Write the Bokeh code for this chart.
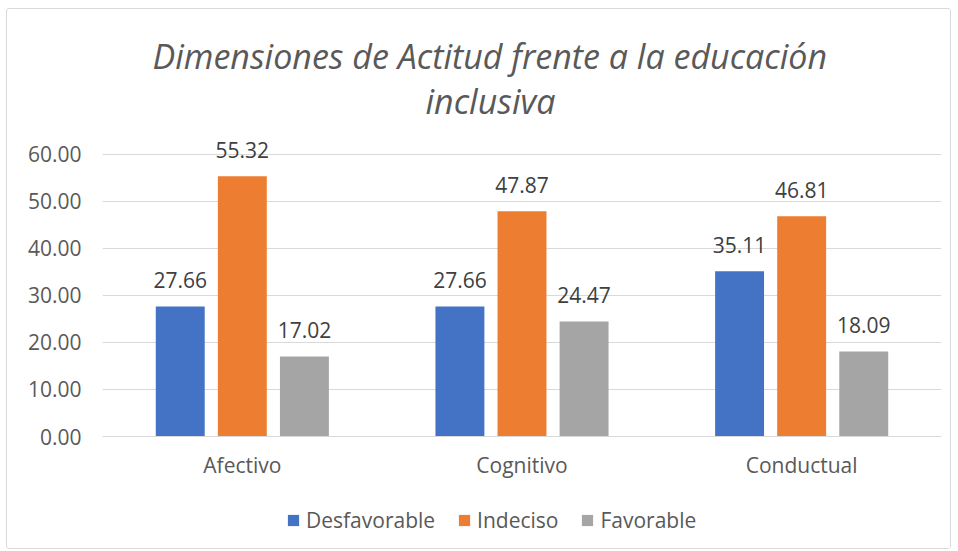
from bokeh.plotting import figure
from bokeh.layouts import column
from bokeh.models import (ColumnDataSource, FactorRange, Range1d, FixedTicker,
                          NumeralTickFormatter, LabelSet, Legend, LegendItem, Title)
from bokeh.transform import dodge
from bokeh.core.properties import value
from bokeh.embed import file_html
from bokeh.resources import INLINE

categories = ["Afectivo", "Cognitivo", "Conductual"]
series_names = ["Desfavorable", "Indeciso", "Favorable"]
desfavorable = [27.66, 27.66, 35.11]
indeciso = [55.32, 47.87, 46.81]
favorable = [17.02, 24.47, 18.09]
y_ticks = [0, 10, 20, 30, 40, 50, 60]
title_lines = ["Dimensiones de Actitud frente a la educación", "inclusiva"]

colors = ["#4472C4", "#ED7D31", "#A5A5A5"]
FONT = "Open Sans"
TXT = "#595959"
GRID = "#D9D9D9"
FS = "21px"

src = ColumnDataSource(dict(
    cat=categories,
    d=desfavorable, i=indeciso, f=favorable,
    dt=[f"{v:.2f}" for v in desfavorable],
    it=[f"{v:.2f}" for v in indeciso],
    ft=[f"{v:.2f}" for v in favorable],
))

p = figure(x_range=FactorRange(*categories), y_range=Range1d(0, 64),
           width=943, height=490, output_backend="svg", toolbar_location=None,
           title=None, min_border_left=95, min_border_right=9,
           min_border_top=126, min_border_bottom=63)

p.add_layout(Title(text=title_lines[1], align="left", offset=323, text_font=FONT,
                   text_font_size="34px", text_font_style="italic",
                   text_color=TXT, standoff=24), "above")
p.add_layout(Title(text=title_lines[0], align="left", offset=50, text_font=FONT,
                   text_font_size="34px", text_font_style="italic",
                   text_color=TXT, standoff=-30), "above")

offs = [-0.222, 0.0, 0.222]
cols = ["d", "i", "f"]
tcols = ["dt", "it", "ft"]
for k in range(3):
    p.vbar(x=dodge("cat", offs[k], range=p.x_range), top=cols[k], width=0.175,
           source=src, fill_color=colors[k], line_color=None)
    lbl = LabelSet(x=dodge("cat", offs[k], range=p.x_range), y=cols[k], text=tcols[k],
                   source=src, text_align="center", text_baseline="alphabetic",
                   y_offset=18, text_font=value(FONT), text_font_size=FS,
                   text_color="#404040")
    p.add_layout(lbl)

p.xaxis.axis_line_color = GRID
p.xaxis.major_tick_line_color = None
p.xaxis.minor_tick_line_color = None
p.xaxis.major_label_text_font = FONT
p.xaxis.major_label_text_font_size = FS
p.xaxis.major_label_text_color = TXT
p.xaxis.major_label_standoff = 8

p.yaxis.ticker = FixedTicker(ticks=y_ticks)
p.yaxis.formatter = NumeralTickFormatter(format="0.00")
p.yaxis.axis_line_color = None
p.yaxis.major_tick_line_color = None
p.yaxis.minor_tick_line_color = None
p.yaxis.major_label_text_font = FONT
p.yaxis.major_label_text_font_size = FS
p.yaxis.major_label_text_color = TXT
p.yaxis.major_label_standoff = 15

p.xgrid.grid_line_color = None
p.ygrid.grid_line_color = GRID
p.outline_line_color = None

# legend strip: same series drawn off-view, legend inside its frame
q = figure(x_range=FactorRange(*categories), y_range=Range1d(1000, 1001),
           width=943, height=49, output_backend="svg", toolbar_location=None,
           title=None, x_axis_type=None, y_axis_type=None,
           min_border_left=0, min_border_right=0, min_border_top=0, min_border_bottom=0)
q.outline_line_color = None
q.grid.visible = False
leg_renderers = []
for k in range(3):
    r = q.vbar(x=dodge("cat", offs[k], range=q.x_range), top=cols[k], width=0.175,
               source=src, fill_color=colors[k], line_color=None)
    leg_renderers.append(r)

legend = Legend(items=[LegendItem(label=series_names[k], renderers=[leg_renderers[k]]) for k in range(3)],
                orientation="horizontal", location=(184, 14),
                glyph_width=14, glyph_height=14, label_standoff=6, spacing=22,
                padding=0, margin=0, border_line_color=None,
                background_fill_alpha=0, label_text_font=FONT,
                label_text_font_size=FS, label_text_color=TXT)
q.add_layout(legend, "center")

layout = column(p, q, spacing=0)
layout.styles = {"margin-left": "6px", "margin-top": "8px",
                 "border": "1px solid #D9D9D9", "border-radius": "3px"}

open("out.html", "w").write(file_html(layout, INLINE))
